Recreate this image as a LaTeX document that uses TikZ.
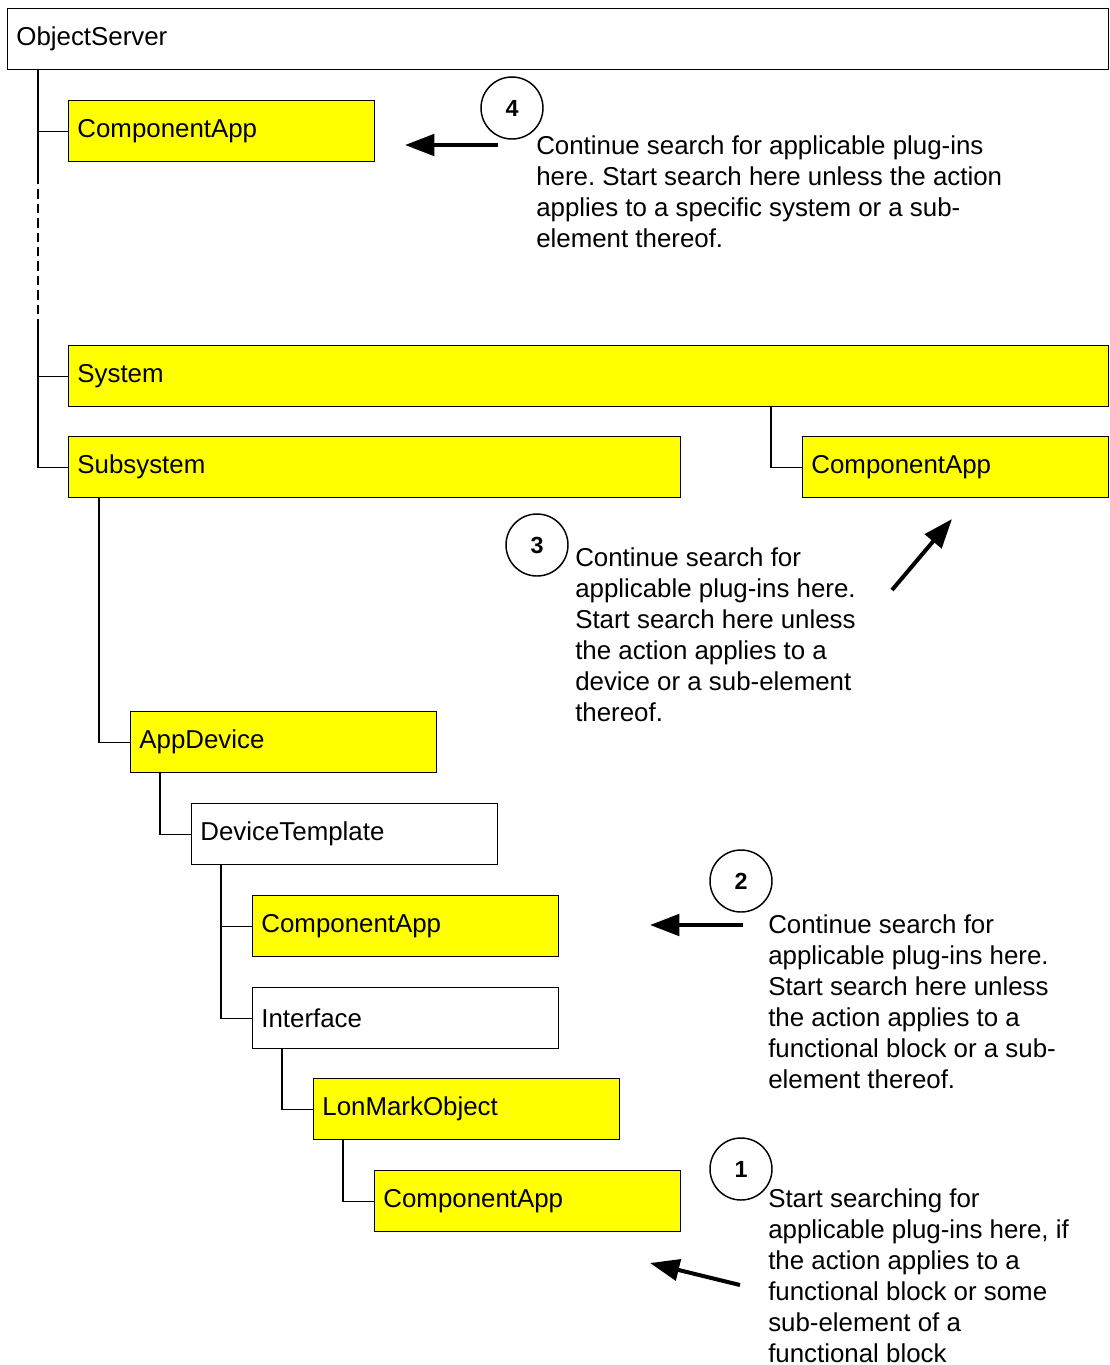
\documentclass[tikz,border=0pt]{standalone}
\usepackage{fontspec}
\setmainfont{Liberation Sans}
\usetikzlibrary{arrows.meta}
\definecolor{boxyellow}{RGB}{255,255,0}
\frenchspacing

\begin{document}
\begin{tikzpicture}[x=0.75pt,y=-0.75pt,
  every node/.style={font=\fontsize{19.4}{23.25}\selectfont},
  box/.style={draw, line width=1.1pt, anchor=north west, minimum height=45.75pt,
    inner xsep=6.5pt, inner ysep=0pt, align=left},
  ybox/.style={box, fill=boxyellow},
  tree/.style={line width=1.1pt},
  note/.style={anchor=north west, inner sep=0pt, align=left},
  step num/.style={draw, circle, line width=1.1pt, minimum size=46.5pt, inner sep=0pt,
    font=\fontsize{17.5}{17.5}\selectfont\bfseries},
  pointer/.style={line width=3pt, -{Triangle[length=22pt,width=16pt]}}
]
\useasboundingbox (0,0) rectangle (1110,1365);

% tree of objects
\node[box, text width=812.75pt] (os) at (7,8) {\raisebox{1pt}{ObjectServer}};
\node[ybox, text width=216.5pt] (ca1) at (68,100) {\raisebox{-1pt}{ComponentApp}};
\node[ybox, text width=767pt] (sys) at (68,345) {\raisebox{-1pt}{System}};
\node[ybox, text width=446pt] (sub) at (68,436) {\raisebox{-1pt}{Subsystem}};
\node[ybox, text width=216.5pt] (car) at (802,436) {\raisebox{-1pt}{ComponentApp}};
\node[ybox, text width=216.5pt] (dev) at (130,711) {\raisebox{-1pt}{AppDevice}};
\node[box, text width=216.5pt] (tpl) at (191,803) {\raisebox{-1pt}{DeviceTemplate}};
\node[ybox, text width=216.5pt] (ca2) at (252,895) {\raisebox{-1pt}{ComponentApp}};
\node[box, text width=216.5pt] (ifc) at (252,987) {\raisebox{-1pt}{Interface}};
\node[ybox, text width=216.5pt] (lmo) at (313,1078) {\raisebox{-1pt}{LonMarkObject}};
\node[ybox, text width=216.5pt] (ca3) at (374,1170) {\raisebox{-1pt}{ComponentApp}};

% trunk below ObjectServer, broken by a dashed gap
\coordinate (t) at (38,0);
\coordinate (gapa) at (38,175);
\coordinate (gapb) at (38,325);
\draw[tree] (t |- os.south) -- (gapa);
\draw[line width=1.8pt, dash pattern=on 7pt off 3.8pt] (gapa) -- (gapb);
\draw[tree] (gapb) -- (t |- sub.west) -- (sub.west);
\draw[tree] (t |- ca1.west) -- (ca1.west);
\draw[tree] (t |- sys.west) -- (sys.west);

% System -> its ComponentApp
\coordinate (k) at ([xshift=-23.25pt]car.west);
\draw[tree] (k |- sys.south) -- (k) -- (car.west);

% nested branches
\draw[tree] ([xshift=23.25pt]sub.south west) |- (dev.west);
\draw[tree] ([xshift=22.5pt]dev.south west) |- (tpl.west);
\draw[tree] ([xshift=22.5pt]tpl.south west) |- (ifc.west);
\draw[tree] ([xshift=22.5pt]tpl.south west |- ca2.west) -- (ca2.west);
\draw[tree] ([xshift=22.5pt]ifc.south west) |- (lmo.west);
\draw[tree] ([xshift=22.5pt]lmo.south west) |- (ca3.west);

% numbered search steps
\node[step num] (n4) at (512,108) {4};
\node[step num] (n3) at (537,545) {3};
\node[step num] (n2) at (741,881) {2};
\node[step num] (n1) at (741,1169) {1};

\node[note] (t4) at (536,135) {Continue search for applicable plug-ins\\here. Start search here unless the action\\applies to a specific system or a sub-\\element thereof.};
\node[note] (t3) at (575,547) {Continue search for\\applicable plug-ins here.\\Start search here unless\\the action applies to a\\device or a sub-element\\thereof.};
\node[note] (t2) at (768,914) {Continue search for\\applicable plug-ins here.\\Start search here unless\\the action applies to a\\functional block or a sub-\\element thereof.};
\node[note] (t1) at (768,1188) {Start searching for\\applicable plug-ins here, if\\the action applies to a\\functional block or some\\sub-element of a\\functional block};

% pointers
\coordinate (a4s) at (498,145); \coordinate (a4e) at (405,145);
\coordinate (a3s) at (892,590); \coordinate (a3e) at (952,519);
\coordinate (a2s) at (743,925); \coordinate (a2e) at (650,925);
\coordinate (a1s) at (740,1285); \coordinate (a1e) at (650,1263);
\draw[pointer] (a4s) -- (a4e);
\draw[pointer] (a3s) -- (a3e);
\draw[pointer] (a2s) -- (a2e);
\draw[pointer] (a1s) -- (a1e);
\end{tikzpicture}
\end{document}
